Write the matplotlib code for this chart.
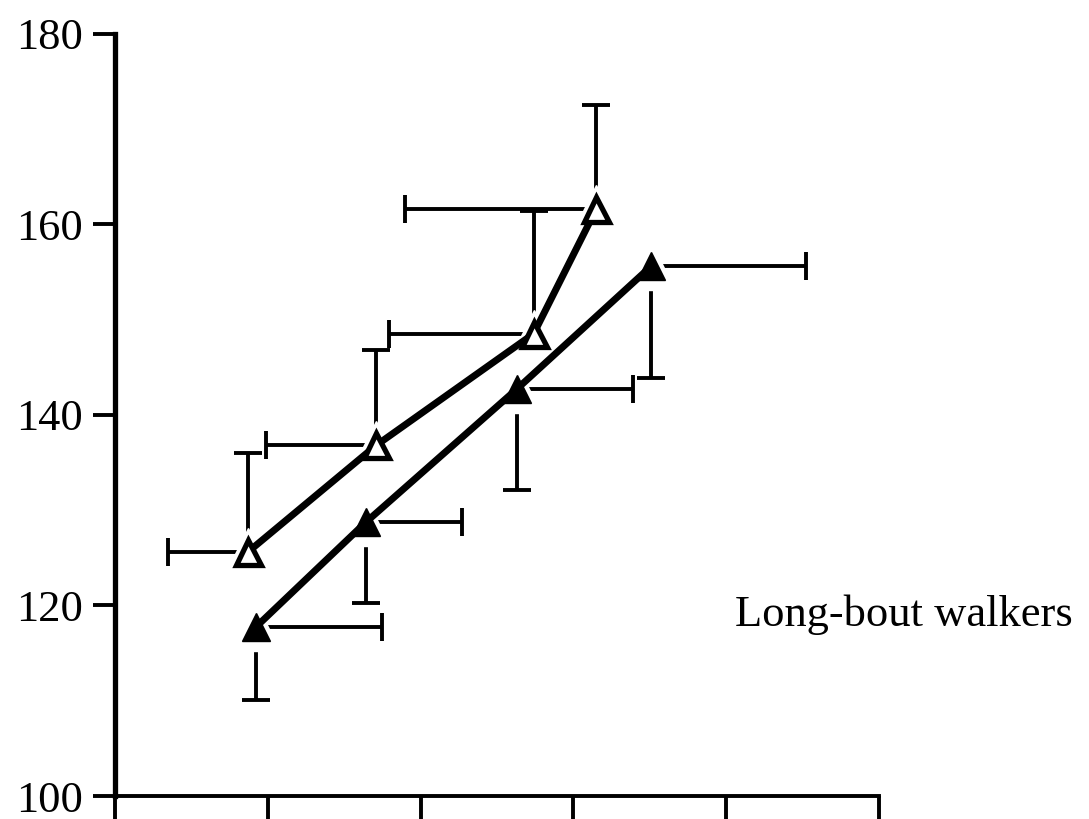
import numpy as np
import matplotlib
matplotlib.use('Agg')
from matplotlib import pyplot as plt

plt.rcParams['font.family'] = ['Liberation Serif', 'DejaVu Serif']

# open triangles: error bars go up (y) and left (x)
open_x = np.array([0.87, 1.71, 2.74, 3.15])
open_y = np.array([125.6, 136.8, 148.5, 161.6])
open_xerr = np.array([0.52, 0.72, 0.95, 1.25])
open_yerr = np.array([10.4, 10.0, 12.9, 10.9])

# filled triangles: error bars go down (y) and right (x)
filled_x = np.array([0.92, 1.64, 2.63, 3.51])
filled_y = np.array([117.7, 128.7, 142.7, 155.6])
filled_xerr = np.array([0.83, 0.63, 0.76, 1.01])
filled_yerr = np.array([7.6, 8.5, 10.6, 11.7])

yticks = [100, 120, 140, 160, 180]
xticks = [0, 1, 2, 3, 4, 5]
label = 'Long-bout walkers'

fig = plt.figure(figsize=(10.89, 8.19), dpi=100)
ax = fig.add_axes([115 / 1089, 1 - 796 / 819, (879 - 115) / 1089, (796 - 33.5) / 819])

ebw = 2.8
cap = 20

# error bars (one-sided)
ax.vlines(open_x, open_y, open_y + open_yerr, color='k', lw=ebw, zorder=1)
ax.plot(open_x, open_y + open_yerr, ls='none', marker='_', ms=cap, mew=ebw, color='k', zorder=1)
ax.hlines(open_y, open_x - open_xerr, open_x, color='k', lw=ebw, zorder=1)
ax.plot(open_x - open_xerr, open_y, ls='none', marker='|', ms=cap, mew=ebw, color='k', zorder=1)

ax.vlines(filled_x, filled_y - filled_yerr, filled_y, color='k', lw=ebw, zorder=1)
ax.plot(filled_x, filled_y - filled_yerr, ls='none', marker='_', ms=cap, mew=ebw, color='k', zorder=1)
ax.hlines(filled_y, filled_x, filled_x + filled_xerr, color='k', lw=ebw, zorder=1)
ax.plot(filled_x + filled_xerr, filled_y, ls='none', marker='|', ms=cap, mew=ebw, color='k', zorder=1)

# white halo so error bars stop short of the markers
ax.plot(open_x, open_y, ls='none', marker='^', ms=34, color='white', zorder=2)
ax.plot(filled_x, filled_y, ls='none', marker='^', ms=34, color='white', zorder=2)

# connecting lines and markers
ax.plot(open_x, open_y, color='k', lw=5, zorder=3)
ax.plot(filled_x, filled_y, color='k', lw=5, zorder=3)
ax.plot(open_x, open_y, ls='none', marker='^', ms=18, mfc='white', mec='k', mew=3.8, zorder=4)
ax.plot(filled_x, filled_y, ls='none', marker='^', ms=20, mfc='k', mec='k', zorder=4)

ax.set_xlim(0, 5)
ax.set_ylim(100, 180)
ax.set_xticks(xticks)
ax.set_xticklabels([])
ax.set_yticks(yticks)
ax.tick_params(axis='y', direction='out', length=16, width=2.8, labelsize=32, pad=7)
ax.tick_params(axis='x', direction='out', length=20, width=2.8)
for s in ['top', 'right']:
    ax.spines[s].set_visible(False)
ax.spines['left'].set_linewidth(3.8)
ax.spines['bottom'].set_linewidth(2.8)

fig.text(735 / 1089, 1 - 615 / 819, label, fontsize=32, ha='left', va='center')

fig.savefig('out.png', dpi=100)
